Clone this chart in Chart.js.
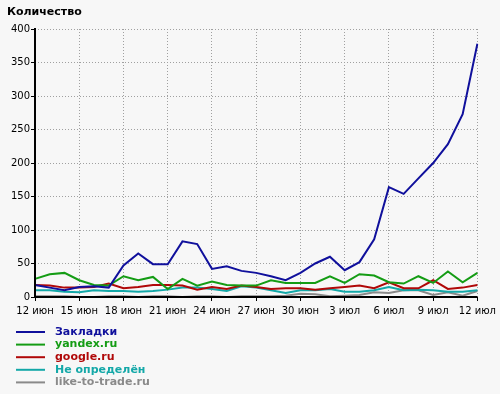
<!DOCTYPE html>
<html>
<head>
<meta charset="utf-8">
<script src="https://cdn.jsdelivr.net/npm/chart.js@4"></script>
<style>
  html, body { margin: 0; padding: 0; background: #f7f7f7; }
  #wrap { width: 500px; height: 394px; position: relative; }
</style>
</head>
<body>
<div id="wrap"><canvas id="chart" width="500" height="394"></canvas></div>
<script>
// dates 12 июн .. 12 июл
const days = [];
for (let d = 12; d <= 30; d++) days.push(d + ' июн');
for (let d = 1; d <= 12; d++) days.push(d + ' июл');

const seriesNames = ['Закладки', 'yandex.ru', 'google.ru', 'Не определён', 'like-to-trade.ru'];
const seriesColors = ['#10109c', '#149c14', '#b00808', '#14a8a8', '#8a8a8a'];

const zakladki = [18, 14, 10, 15, 16, 14, 47, 65, 49, 49, 83, 79, 42, 46, 39, 36, 31, 25, 36, 50, 60, 40, 52, 86, 164, 154, 177, 200, 228, 273, 378];
const yandex = [27, 34, 36, 25, 18, 17, 31, 25, 30, 12, 27, 17, 23, 18, 17, 17, 25, 21, 21, 21, 31, 21, 34, 32, 22, 20, 31, 21, 38, 22, 36];
const google = [18, 17, 14, 14, 15, 20, 13, 15, 18, 18, 17, 11, 15, 12, 17, 15, 12, 13, 13, 11, 13, 15, 17, 13, 22, 13, 13, 25, 12, 14, 18];
const neOpr = [10, 10, 8, 7, 10, 9, 9, 8, 9, 11, 14, 14, 12, 9, 16, 14, 10, 6, 10, 10, 12, 8, 8, 10, 15, 10, 11, 10, 8, 8, 10];
const likeToTrade = [1, 1, 1, 0, 0, 1, 1, 0, 1, 1, 0, 1, 1, 0, 1, 1, 1, 2, 5, 4, 1, 2, 3, 7, 6, 10, 10, 3, 7, 2, 9];

const yTicks = [0, 50, 100, 150, 200, 250, 300, 350, 400];

const allSeries = [zakladki, yandex, google, neOpr, likeToTrade];

const FONT = '"DejaVu Sans", Verdana, sans-serif';

// title + legend + solid axes
const extras = {
  id: 'extras',
  afterDraw(chart) {
    const { ctx, chartArea } = chart;
    ctx.save();
    // axes
    ctx.strokeStyle = '#000';
    ctx.lineWidth = 2;
    ctx.beginPath();
    ctx.moveTo(chartArea.left, chartArea.top - 1);
    ctx.lineTo(chartArea.left, chartArea.bottom);
    ctx.lineTo(chartArea.right, chartArea.bottom);
    ctx.stroke();
    // title
    ctx.fillStyle = '#000';
    ctx.font = 'bold 11px ' + FONT;
    ctx.textBaseline = 'middle';
    ctx.fillText('Количество', 7, 12);
    // legend
    ctx.font = 'bold 11px ' + FONT;
    seriesNames.forEach((name, i) => {
      const y = 332 + i * 12.6;
      ctx.strokeStyle = seriesColors[i];
      ctx.lineWidth = 2;
      ctx.beginPath();
      ctx.moveTo(16, y);
      ctx.lineTo(45, y);
      ctx.stroke();
      ctx.fillStyle = seriesColors[i];
      ctx.fillText(name, 55, y);
    });
    ctx.restore();
  }
};

new Chart(document.getElementById('chart'), {
  type: 'line',
  data: {
    labels: days,
    datasets: allSeries.map((data, i) => ({
      label: seriesNames[i],
      data,
      borderColor: seriesColors[i],
      backgroundColor: seriesColors[i],
      borderWidth: 2,
      pointRadius: 0,
      tension: 0,
      fill: false,
    })),
  },
  options: {
    responsive: false,
    animation: false,
    layout: { padding: { top: 29, right: 18, left: 0, bottom: 0 } },
    plugins: {
      legend: { display: false },
      tooltip: { enabled: false },
    },
    scales: {
      x: {
        offset: false,
        afterFit: (scale) => { scale.height = 97; },
        grid: {
          color: (c) => (c.index % 3 === 0 ? '#a0a0a0' : 'rgba(0,0,0,0)'),
          tickColor: (c) => (c.index % 3 === 0 ? '#000' : 'rgba(0,0,0,0)'),
          tickLength: 4,
          tickBorderDash: [],
          lineWidth: 1,
        },
        border: { display: false, dash: [1, 2] },
        ticks: {
          autoSkip: false,
          maxRotation: 0,
          padding: 4,
          color: '#000',
          font: { family: FONT, size: 10 },
          callback: (v, i) => (i % 3 === 0 ? days[i] : ''),
        },
      },
      y: {
        min: 0,
        max: 400,
        afterFit: (scale) => { scale.width = 35; },
        afterBuildTicks: (scale) => { scale.ticks = yTicks.map((v) => ({ value: v })); },
        grid: {
          color: '#a0a0a0',
          tickColor: '#000',
          tickLength: 4,
          tickBorderDash: [],
          lineWidth: 1,
        },
        border: { display: false, dash: [1, 2] },
        ticks: {
          padding: 1,
          color: '#000',
          font: { family: FONT, size: 10 },
        },
      },
    },
  },
  plugins: [extras],
});
</script>
</body>
</html>
